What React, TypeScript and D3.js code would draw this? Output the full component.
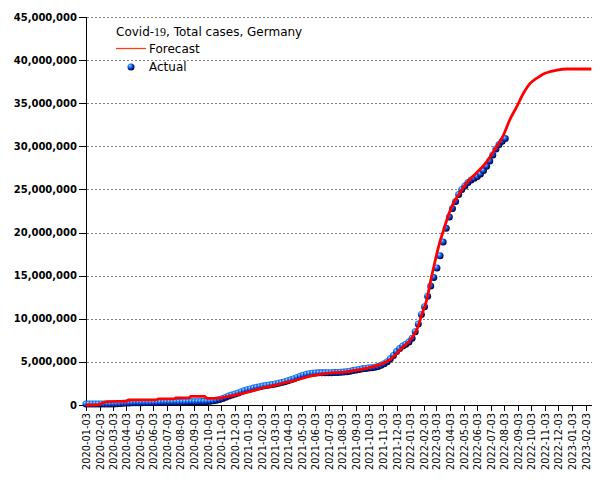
import React from 'react';
import * as d3 from 'd3';

const W = 605;
const H = 480;

// Weekly actual cumulative cases (millions), starting 2020-01-03
const actualStart = '2020-01-03';
const actualM = [
  0.12, 0.12, 0.12, 0.12, 0.12, 0.12, 0.12, 0.12, 0.12, 0.13,
  0.14, 0.16, 0.2, 0.22, 0.24, 0.25, 0.26, 0.27, 0.27, 0.28,
  0.28, 0.28, 0.29, 0.3, 0.31, 0.32, 0.32, 0.33, 0.33, 0.34,
  0.34, 0.35, 0.36, 0.37, 0.38, 0.38, 0.39, 0.4, 0.41, 0.42,
  0.44, 0.48, 0.55, 0.64, 0.76, 0.9, 1.03, 1.15, 1.28, 1.4,
  1.55, 1.68, 1.78, 1.87, 1.96, 2.05, 2.13, 2.2, 2.26, 2.32,
  2.38, 2.45, 2.52, 2.6, 2.7, 2.82, 2.93, 3.05, 3.2, 3.33,
  3.45, 3.56, 3.63, 3.68, 3.71, 3.73, 3.74, 3.74, 3.75, 3.75,
  3.76, 3.77, 3.79, 3.82, 3.86, 3.92, 3.99, 4.06, 4.13, 4.19,
  4.24, 4.29, 4.33, 4.39, 4.47, 4.6, 4.78, 5.02, 5.35, 5.75,
  6.2, 6.55, 6.85, 7.05, 7.3, 7.75, 8.5, 9.4, 10.5, 11.4,
  12.6, 13.8, 14.8, 15.9, 17.3, 18.9, 20.5, 21.8, 22.8, 23.6,
  24.4, 25.0, 25.4, 25.8, 26.1, 26.3, 26.5, 26.8, 27.2, 27.7,
  28.3, 29.0, 29.7, 30.2, 30.6, 30.9,
];

// Forecast (millions)
const forecastDates = [
  '2020-01-03', '2020-01-28', '2020-02-20', '2020-04-03', '2020-04-08',
  '2020-06-09', '2020-06-14', '2020-07-20', '2020-07-23', '2020-08-23',
  '2020-08-26', '2020-09-27', '2020-10-01', '2020-10-31', '2020-11-12',
  '2020-11-30', '2020-12-22', '2021-01-14', '2021-02-06', '2021-03-01',
  '2021-03-21', '2021-04-13', '2021-05-05', '2021-05-28', '2021-06-20',
  '2021-07-14', '2021-08-11', '2021-09-05', '2021-09-25', '2021-10-11',
  '2021-11-03', '2021-11-19', '2021-12-04', '2021-12-18', '2022-01-03',
  '2022-01-19', '2022-01-29', '2022-02-10', '2022-02-17', '2022-02-27',
  '2022-03-10', '2022-03-21', '2022-03-29', '2022-04-09', '2022-04-24',
  '2022-05-09', '2022-06-01', '2022-06-24', '2022-07-12', '2022-08-01',
  '2022-08-15', '2022-08-31', '2022-09-15', '2022-09-30', '2022-10-15',
  '2022-10-30', '2022-11-14', '2022-11-30', '2022-12-21', '2023-02-15',
];
const forecastM = [
  0.0, 0.02, 0.4, 0.43, 0.58,
  0.6, 0.7, 0.71, 0.81, 0.82,
  0.99, 1.0, 0.78, 0.8, 0.95,
  1.1, 1.36, 1.66, 2.0, 2.24,
  2.52, 2.78, 3.1, 3.4, 3.6,
  3.75, 3.85, 4.06, 4.25, 4.44,
  4.84, 5.3, 6.0, 6.76, 7.54,
  8.9, 10.5, 12.4, 14.2, 16.5,
  18.8, 20.6, 21.9, 23.3, 24.55,
  25.7, 26.9, 28.2, 29.6, 31.3,
  33.05, 34.6, 36.15, 37.3, 37.9,
  38.4, 38.66, 38.85, 38.97, 38.97,
];

const yTicks = [0, 5e6, 10e6, 15e6, 20e6, 25e6, 30e6, 35e6, 40e6, 45e6];
const xTickLabels = [
  '2020-01-03', '2020-02-03', '2020-03-03', '2020-04-03', '2020-05-03', '2020-06-03',
  '2020-07-03', '2020-08-03', '2020-09-03', '2020-10-03', '2020-11-03', '2020-12-03',
  '2021-01-03', '2021-02-03', '2021-03-03', '2021-04-03', '2021-05-03', '2021-06-03',
  '2021-07-03', '2021-08-03', '2021-09-03', '2021-10-03', '2021-11-03', '2021-12-03',
  '2022-01-03', '2022-02-03', '2022-03-03', '2022-04-03', '2022-05-03', '2022-06-03',
  '2022-07-03', '2022-08-03', '2022-09-03', '2022-10-03', '2022-11-03', '2022-12-03',
  '2023-01-03', '2023-02-03',
];

const FONT = '"DejaVu Sans", Verdana, sans-serif';

export default function App() {
  const parse = d3.timeParse('%Y-%m-%d');
  const start = parse(actualStart) as Date;
  const x = d3
    .scaleTime()
    .domain([parse(xTickLabels[0]) as Date, parse(xTickLabels[xTickLabels.length - 1]) as Date])
    .range([86, 586]);
  const y = d3.scaleLinear().domain([0, 45e6]).range([405, 17]);
  const fmt = d3.format(',');

  const actual = actualM.map((v, i) => ({ date: d3.timeDay.offset(start, 7 * i), v: v * 1e6 }));
  const forecast = forecastDates.map((d, i) => ({ date: parse(d) as Date, v: forecastM[i] * 1e6 }));

  const line = d3
    .line<{ date: Date; v: number }>()
    .x((d) => x(d.date))
    .y((d) => y(d.v))
    .curve(d3.curveMonotoneX);

  const xLeft = 86;
  const xRight = 592;

  return (
    <svg
      width={W}
      height={H}
      style={{ position: 'absolute', left: 0, top: 0, background: '#fff' }}
      fontFamily={FONT}
    >
      <defs>
        <radialGradient id="ball" cx="0.4" cy="0.38" r="0.62" fx="0.33" fy="0.28">
          <stop offset="0" stopColor="#b8ecff" />
          <stop offset="0.22" stopColor="#3ea2ff" />
          <stop offset="0.55" stopColor="#0b4fe0" />
          <stop offset="0.8" stopColor="#031a8c" />
          <stop offset="1" stopColor="#000028" />
        </radialGradient>
      </defs>
      <rect x={0} y={0} width={W} height={H} fill="#fff" />

      {/* grid lines */}
      {yTicks
        .filter((t) => t > 0)
        .map((t) => (
          <line
            key={'g' + t}
            x1={xLeft + 1}
            x2={xRight}
            y1={Math.round(y(t)) + 0.5}
            y2={Math.round(y(t)) + 0.5}
            stroke="#808080"
            strokeWidth={1}
            strokeDasharray="2,2"
          />
        ))}

      {/* y axis */}
      <line x1={xLeft + 0.5} x2={xLeft + 0.5} y1={y(45e6)} y2={y(0) + 0.5} stroke="#000" />
      {yTicks.map((t) => (
        <g key={'y' + t}>
          <line
            x1={xLeft - 7}
            x2={xLeft}
            y1={Math.round(y(t)) + 0.5}
            y2={Math.round(y(t)) + 0.5}
            stroke="#000"
          />
          <text
            x={xLeft - 9}
            y={y(t)}
            dy="0.35em"
            textAnchor="end"
            fontSize={10}
            fontWeight="bold"
            fill="#000"
          >
            {fmt(t)}
          </text>
        </g>
      ))}

      {/* x axis */}
      <line x1={xLeft} x2={xRight} y1={405.5} y2={405.5} stroke="#000" />
      {xTickLabels.map((lab) => {
        const xx = Math.round(x(parse(lab) as Date)) + 0.5;
        return (
          <g key={lab}>
            <line x1={xx} x2={xx} y1={405} y2={411} stroke="#000" />
            <text
              transform={`translate(${xx},${413}) rotate(-90)`}
              dy="0.35em"
              textAnchor="end"
              fontSize={9.8}
              fill="#000"
            >
              {lab}
            </text>
          </g>
        );
      })}

      {/* actual points */}
      {actual.map((d, i) => (
        <circle key={'a' + i} cx={x(d.date)} cy={y(d.v)} r={3.5} fill="url(#ball)" />
      ))}

      {/* forecast line */}
      <path d={line(forecast) || ''} fill="none" stroke="#ff0000" strokeWidth={2.8} strokeLinejoin="round" />

      {/* legend */}
      <text x={116} y={36} fontSize={12} fill="#000">
        Covid-<tspan fontFamily='"Liberation Serif", serif'>19</tspan>, Total cases, Germany
      </text>
      <line x1={116} x2={146} y1={48.5} y2={48.5} stroke="#ff3c14" strokeWidth={1.3} />
      <text x={149} y={53} fontSize={12} fill="#000">
        Forecast
      </text>
      <circle cx={131} cy={67} r={3.5} fill="url(#ball)" />
      <text x={149} y={71} fontSize={12} fill="#000">
        Actual
      </text>
    </svg>
  );
}
